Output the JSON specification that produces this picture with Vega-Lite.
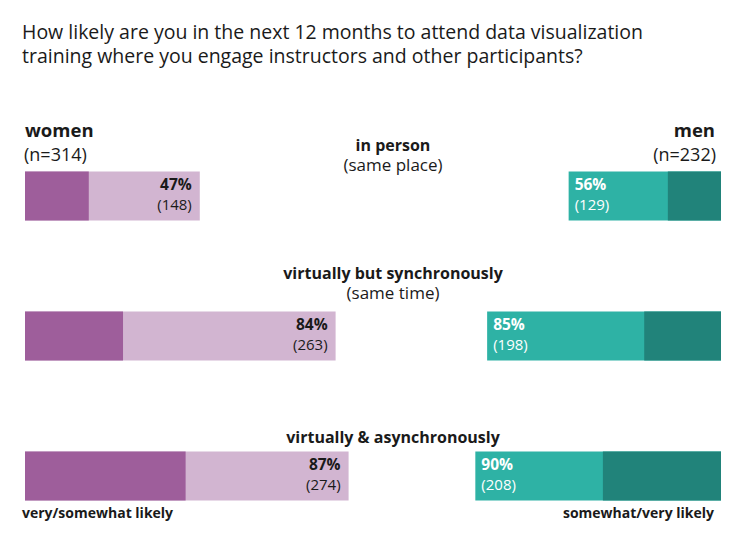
{
  "$schema": "https://vega.github.io/schema/vega-lite/v6.json",
  "padding": {"left": 22, "right": 22, "top": 23, "bottom": 8},
  "title": {
    "text": [
      "How likely are you in the next 12 months to attend data visualization",
      "training where you engage instructors and other participants?"
    ],
    "anchor": "start",
    "dx": 0,
    "fontSize": 19.5,
    "fontWeight": "normal",
    "lineHeight": 24,
    "color": "#1a1a1a",
    "offset": 54
  },
  "config": {
    "font": "Open Sans",
    "view": {"stroke": null},
    "text": {"color": "#1a1a1a"}
  },
  "bounds": "flush",
  "spacing": 0,
  "datasets": {
    "likely": [
      {"mode": "in person", "gender": "women", "n": 314, "very": 54, "total": 148, "pct": 0.47},
      {"mode": "virtually but synchronously", "gender": "women", "n": 314, "very": 83, "total": 263, "pct": 0.84},
      {"mode": "virtually & asynchronously", "gender": "women", "n": 314, "very": 136, "total": 274, "pct": 0.87},
      {"mode": "in person", "gender": "men", "n": 232, "very": 45, "total": 129, "pct": 0.56},
      {"mode": "virtually but synchronously", "gender": "men", "n": 232, "very": 65, "total": 198, "pct": 0.85},
      {"mode": "virtually & asynchronously", "gender": "men", "n": 232, "very": 100, "total": 208, "pct": 0.9}
    ],
    "modes": [
      {"mode": "in person", "sub": "(same place)"},
      {"mode": "virtually but synchronously", "sub": "(same time)"},
      {"mode": "virtually & asynchronously", "sub": ""}
    ]
  },
  "hconcat": [
    {
      "width": 368,
      "height": 420,
      "data": {"name": "likely"},
      "transform": [
        {"filter": "datum.gender === 'women'"},
        {"calculate": "'(' + datum.total + ')'", "as": "count_label"},
        {"calculate": "'(n=' + datum.n + ')'", "as": "n_label"}
      ],
      "encoding": {
        "y": {
          "field": "mode",
          "type": "nominal",
          "sort": ["in person", "virtually but synchronously", "virtually & asynchronously"],
          "scale": {"paddingInner": 0.65, "paddingOuter": 0.325},
          "axis": null
        }
      },
      "layer": [
        {
          "mark": {"type": "bar", "color": "#d2b5d1"},
          "encoding": {
            "x": {"field": "total", "type": "quantitative", "scale": {"domain": [0, 311.6], "nice": false, "zero": true}, "axis": null}
          }
        },
        {
          "mark": {"type": "bar", "color": "#9e5e9b"},
          "encoding": {
            "x": {"field": "very", "type": "quantitative"}
          }
        },
        {
          "mark": {"type": "text", "align": "right", "baseline": "alphabetic", "dx": -8, "dy": -5.6, "fontSize": 15.5, "fontWeight": "bold"},
          "encoding": {
            "x": {"field": "total", "type": "quantitative"},
            "text": {"field": "pct", "type": "quantitative", "format": ".0%"}
          }
        },
        {
          "mark": {"type": "text", "align": "right", "baseline": "alphabetic", "dx": -8, "dy": 14.4, "fontSize": 15},
          "encoding": {
            "x": {"field": "total", "type": "quantitative"},
            "text": {"field": "count_label"}
          }
        },
        {
          "transform": [{"filter": "datum.mode === 'in person'"}],
          "mark": {"type": "text", "align": "left", "baseline": "alphabetic", "dy": -59.3, "fontSize": 18.5, "fontWeight": "bold"},
          "encoding": {
            "x": {"datum": 0, "type": "quantitative"},
            "text": {"field": "gender"}
          }
        },
        {
          "transform": [{"filter": "datum.mode === 'in person'"}],
          "mark": {"type": "text", "align": "left", "baseline": "alphabetic", "dx": -1, "dy": -35, "fontSize": 18},
          "encoding": {
            "x": {"datum": 0, "type": "quantitative"},
            "text": {"field": "n_label"}
          }
        },
        {
          "transform": [{"filter": "datum.mode === 'virtually & asynchronously'"}],
          "mark": {"type": "text", "align": "left", "baseline": "alphabetic", "dx": -3, "dy": 42, "fontSize": 14, "fontWeight": "bold"},
          "encoding": {
            "x": {"datum": 0, "type": "quantitative"},
            "text": {"value": "very/somewhat likely"}
          }
        },
        {
          "data": {"name": "modes"},
          "transform": [{"filter": "datum.mode === 'in person'"}],
          "layer": [
            {
              "mark": {"type": "text", "align": "center", "baseline": "alphabetic", "dy": -45.3, "fontSize": 16, "fontWeight": "bold"},
              "encoding": {"text": {"field": "mode"}}
            },
            {
              "mark": {"type": "text", "align": "center", "baseline": "alphabetic", "dy": -25.3, "fontSize": 17},
              "encoding": {"text": {"field": "sub"}}
            }
          ],
          "encoding": {
            "x": {"datum": 311.6, "type": "quantitative"},
            "y": {"field": "mode", "type": "nominal"}
          }
        },
        {
          "data": {"name": "modes"},
          "transform": [{"filter": "datum.mode === 'virtually but synchronously'"}],
          "layer": [
            {
              "mark": {"type": "text", "align": "center", "baseline": "alphabetic", "dy": -57.5, "fontSize": 16, "fontWeight": "bold"},
              "encoding": {"text": {"field": "mode"}}
            },
            {
              "mark": {"type": "text", "align": "center", "baseline": "alphabetic", "dy": -37.5, "fontSize": 17},
              "encoding": {"text": {"field": "sub"}}
            }
          ],
          "encoding": {
            "x": {"datum": 311.6, "type": "quantitative"},
            "y": {"field": "mode", "type": "nominal"}
          }
        },
        {
          "data": {"name": "modes"},
          "transform": [{"filter": "datum.mode === 'virtually & asynchronously'"}],
          "mark": {"type": "text", "align": "center", "baseline": "alphabetic", "dy": -33.5, "fontSize": 16, "fontWeight": "bold"},
          "encoding": {
            "x": {"datum": 311.6, "type": "quantitative"},
            "y": {"field": "mode", "type": "nominal"},
            "text": {"field": "mode"}
          }
        }
      ]
    },
    {
      "width": 328,
      "height": 420,
      "data": {"name": "likely"},
      "transform": [
        {"filter": "datum.gender === 'men'"},
        {"calculate": "'(' + datum.total + ')'", "as": "count_label"},
        {"calculate": "'(n=' + datum.n + ')'", "as": "n_label"}
      ],
      "encoding": {
        "y": {
          "field": "mode",
          "type": "nominal",
          "sort": ["in person", "virtually but synchronously", "virtually & asynchronously"],
          "scale": {"paddingInner": 0.65, "paddingOuter": 0.325},
          "axis": null
        }
      },
      "layer": [
        {
          "mark": {"type": "bar", "color": "#2eb2a5"},
          "encoding": {
            "x": {"field": "total", "type": "quantitative", "scale": {"domain": [0, 277.7], "nice": false, "zero": true, "reverse": true}, "axis": null}
          }
        },
        {
          "mark": {"type": "bar", "color": "#21837a"},
          "encoding": {
            "x": {"field": "very", "type": "quantitative"}
          }
        },
        {
          "mark": {"type": "text", "align": "left", "baseline": "alphabetic", "dx": 6, "dy": -5.6, "fontSize": 15.5, "fontWeight": "bold", "color": "white"},
          "encoding": {
            "x": {"field": "total", "type": "quantitative"},
            "text": {"field": "pct", "type": "quantitative", "format": ".0%"}
          }
        },
        {
          "mark": {"type": "text", "align": "left", "baseline": "alphabetic", "dx": 6, "dy": 14.4, "fontSize": 15, "color": "white"},
          "encoding": {
            "x": {"field": "total", "type": "quantitative"},
            "text": {"field": "count_label"}
          }
        },
        {
          "transform": [{"filter": "datum.mode === 'in person'"}],
          "mark": {"type": "text", "align": "right", "baseline": "alphabetic", "dx": -6, "dy": -59.3, "fontSize": 18.5, "fontWeight": "bold"},
          "encoding": {
            "x": {"datum": 0, "type": "quantitative"},
            "text": {"field": "gender"}
          }
        },
        {
          "transform": [{"filter": "datum.mode === 'in person'"}],
          "mark": {"type": "text", "align": "right", "baseline": "alphabetic", "dx": -5, "dy": -35, "fontSize": 18},
          "encoding": {
            "x": {"datum": 0, "type": "quantitative"},
            "text": {"field": "n_label"}
          }
        },
        {
          "transform": [{"filter": "datum.mode === 'virtually & asynchronously'"}],
          "mark": {"type": "text", "align": "right", "baseline": "alphabetic", "dx": -7, "dy": 42, "fontSize": 14, "fontWeight": "bold"},
          "encoding": {
            "x": {"datum": 0, "type": "quantitative"},
            "text": {"value": "somewhat/very likely"}
          }
        }
      ]
    }
  ]
}
